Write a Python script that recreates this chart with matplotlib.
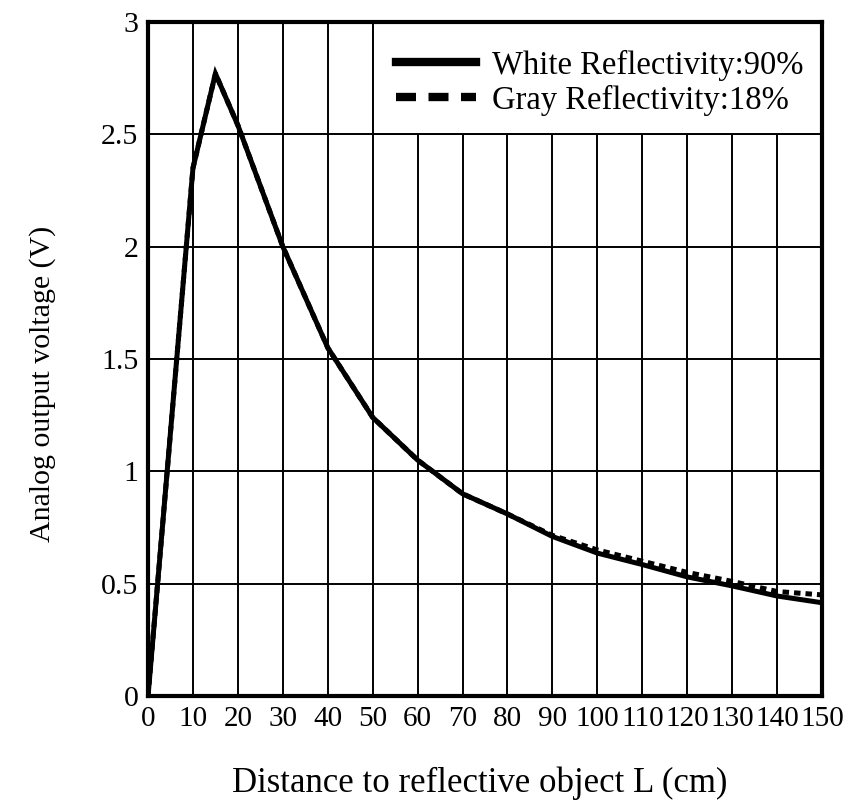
import matplotlib
matplotlib.use("Agg")
import matplotlib.pyplot as plt
from matplotlib.patches import Rectangle
from matplotlib.lines import Line2D

distance = [0, 10, 15, 20, 30, 40, 50, 60, 70, 80, 90, 100, 110, 120, 130, 140, 150]
white = [0.0, 2.35, 2.77, 2.54, 2.0, 1.55, 1.24, 1.05, 0.9, 0.81, 0.71, 0.636, 0.585, 0.53, 0.49, 0.445, 0.415]
gray = [0.0, 2.35, 2.77, 2.54, 2.0, 1.55, 1.24, 1.05, 0.9, 0.81, 0.715, 0.65, 0.6, 0.55, 0.51, 0.465, 0.45]
xticks = list(range(0, 151, 10))
yticks = [0, 0.5, 1, 1.5, 2, 2.5, 3]
ytick_labels = ["0", "0.5", "1", "1.5", "2", "2.5", "3"]
series_labels = ["White Reflectivity:90%", "Gray Reflectivity:18%"]

plt.rcParams['font.family'] = ['Liberation Serif', 'DejaVu Serif']

fig = plt.figure(figsize=(8.46, 8.02), dpi=100)
ax = fig.add_axes([0.175, 0.1322, 0.7966, 0.8404])

ax.plot(distance, gray, color='black', lw=3.6, ls=(0, (1.3, 1.0)), zorder=3)
ax.plot(distance, white, color='black', lw=3.6, solid_joinstyle='miter', zorder=4)

ax.set_xlim(0, 150)
ax.set_ylim(0, 3)
ax.set_xticks(xticks)
ax.set_yticks(yticks)
ax.set_yticklabels(ytick_labels)
ax.grid(True, color='black', lw=1.4)
ax.set_axisbelow(True)
ax.tick_params(axis='x', length=0, labelsize=21, pad=7)
ax.tick_params(axis='y', length=0, labelsize=21.5, pad=7)
for s in ax.spines.values():
    s.set_linewidth(3)
    s.set_zorder(6)
ax.set_xlabel('Distance to reflective object L (cm)', fontsize=25, labelpad=26)
ax.xaxis.set_label_coords(0.492, -0.105)
ax.set_ylabel('Analog output voltage (V)', fontsize=21.5)
ax.yaxis.set_label_coords(-0.137, 0.463)

# legend box covering the upper-right grid cells
box = Rectangle((50 / 150, 2.5 / 3), 100 / 150, 0.5 / 3, transform=ax.transAxes,
                facecolor='white', edgecolor='black', lw=1.4, zorder=5)
ax.add_patch(box)

handles = [Line2D([], [], color='black', lw=6),
           Line2D([], [], color='black', lw=6, ls=(0, (2.4, 1.5)))]
leg = ax.legend(handles, series_labels, loc='upper left', bbox_to_anchor=(0.348, 0.978),
                frameon=False, fontsize=23.5, handlelength=2.45, handletextpad=0.5,
                labelspacing=0.12, borderaxespad=0.0)
leg.set_zorder(7)
fig.savefig('out.png', dpi=100)
